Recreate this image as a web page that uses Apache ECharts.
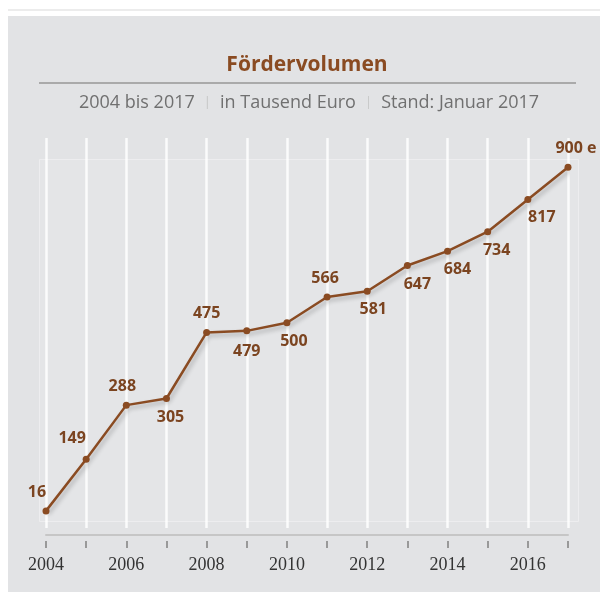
<!DOCTYPE html>
<html>
<head>
<meta charset="utf-8">
<script src="https://cdn.jsdelivr.net/npm/echarts@6/dist/echarts.min.js"></script>
<style>
  html, body { margin: 0; padding: 0; background: #fff; }
  #main { width: 600px; height: 592px; }
</style>
</head>
<body>
<div id="main"></div>
<script>
// Daten
var years = ['2004', '2005', '2006', '2007', '2008', '2009', '2010', '2011', '2012', '2013', '2014', '2015', '2016', '2017'];
var volumen = [16, 149, 288, 305, 475, 479, 500, 566, 581, 647, 684, 734, 817, 900];
var titleText = 'Fördervolumen';
var subParts = ['2004 bis 2017', 'in Tausend Euro', 'Stand: Januar 2017'];

// label placement: [position, dx, dy]
var labelPlace = [
	['top', -9, 0], ['top', -14, -2], ['top', -4, 0], ['bottom', 4, 0],
	['top', 0, 0], ['bottom', 0, 2], ['bottom', 7, 0], ['top', -2, 0],
	['bottom', 6, 0], ['bottom', 10, 0], ['bottom', 10, 0], ['bottom', 9, 0],
	['bottom', 14, 0], ['top', 8, 0]
];

var brown = '#8a4b22';
var labelFont = '"Open Sans", "Noto Sans", sans-serif';

var seriesData = [];
for (var i = 0; i < volumen.length; i++) {
	var p = labelPlace[i];
	seriesData.push({
		value: volumen[i],
		label: {
			position: p[0],
			offset: [p[1], p[2]]
		}
	});
}

var sub = subParts.map(function (s) { return '{a|' + s + '}'; }).join('{s|   |   }');

var option = {
	animation: false,
	graphic: [
		{ type: 'rect', shape: { x: 8, y: 9, width: 592, height: 2 }, style: { fill: '#ececec' }, z: -10 },
		{ type: 'rect', shape: { x: 8, y: 16, width: 592, height: 576 }, style: { fill: '#e2e3e5' }, z: -10 },
		{ type: 'rect', shape: { x: 39.5, y: 159.5, width: 539, height: 362 }, style: { fill: 'rgba(255,255,255,0.08)', stroke: 'rgba(255,255,255,0.35)', lineWidth: 1 }, z: -9 },
		{ type: 'rect', shape: { x: 39, y: 82, width: 537, height: 2 }, style: { fill: '#aaaaaa' }, z: 1 }
	],
	title: [{
		text: titleText,
		left: 307,
		textAlign: 'center',
		top: 55,
		padding: 0,
		textStyle: {
			color: brown,
			fontSize: 21,
			fontWeight: 'bold',
			fontFamily: labelFont
		}
	}, {
		text: sub,
		left: 309,
		textAlign: 'center',
		top: 94,
		padding: 0,
		textStyle: {
			fontWeight: 'normal',
			rich: {
				a: { color: '#707070', fontSize: 18, fontWeight: 'normal', fontFamily: labelFont },
				s: { color: '#c4c4c4', fontSize: 12, fontWeight: 'normal', fontFamily: labelFont }
			}
		}
	}],
	grid: {
		left: 46,
		right: 32,
		top: 138,
		bottom: 64
	},
	xAxis: [{
		type: 'category',
		data: years,
		boundaryGap: false,
		offset: 7,
		axisLine: { show: true, onZero: false, lineStyle: { color: '#c6c6c6', width: 2 } },
		axisTick: { show: false },
		axisLabel: { show: false },
		splitLine: { show: true, lineStyle: { color: 'rgba(255,255,255,0.85)', width: 2.5 } }
	}, {
		type: 'category',
		data: years,
		boundaryGap: false,
		position: 'bottom',
		offset: 13,
		axisLine: { show: false, onZero: false },
		axisTick: { show: true, interval: 0, length: 7, lineStyle: { color: '#999999', width: 2 } },
		axisLabel: {
			interval: 1,
			margin: 15,
			color: '#333333',
			fontSize: 18,
			fontFamily: '"Liberation Serif", "DejaVu Serif", serif'
		},
		splitLine: { show: false }
	}],
	yAxis: {
		type: 'value',
		min: -28,
		max: 975,
		show: false,
		splitLine: { show: false }
	},
	series: [{
		type: 'line',
		xAxisIndex: 0,
		data: seriesData,
		symbol: 'circle',
		symbolSize: 7,
		lineStyle: {
			color: brown,
			width: 2.5,
			shadowColor: 'rgba(0,0,0,0.25)',
			shadowBlur: 4,
			shadowOffsetX: 2,
			shadowOffsetY: 3
		},
		itemStyle: { color: brown },
		label: {
			show: true,
			distance: 7,
			color: '#7b4420',
			fontSize: 16,
			fontWeight: 'bold',
			fontFamily: labelFont,
			formatter: function (params) {
				if (params.dataIndex === volumen.length - 1) {
					return params.value + ' e';
				}
				return params.value;
			}
		}
	}]
};

var myChart = echarts.init(document.getElementById('main'));
myChart.setOption(option);
</script>
</body>
</html>
